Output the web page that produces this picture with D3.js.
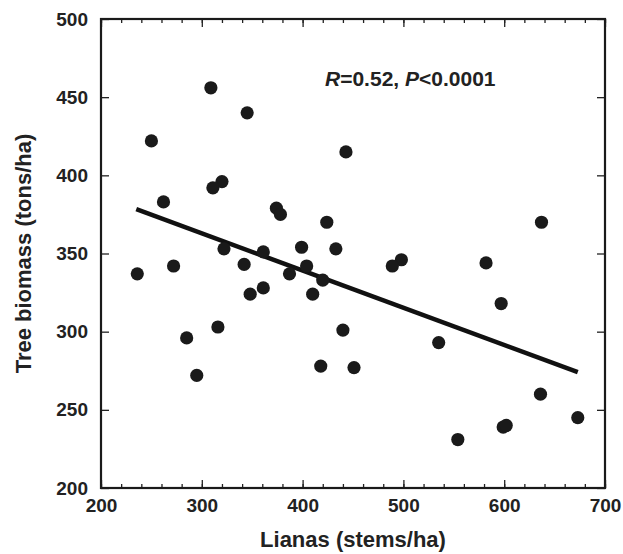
<!DOCTYPE html>
<html>
<head>
<meta charset="utf-8">
<script src="https://cdn.jsdelivr.net/npm/d3@7"></script>
<style>
  body { margin: 0; background: #fff; }
  svg text { font-family: "Liberation Sans", Arial, Helvetica, sans-serif; font-weight: bold; fill: #222; }
  .axis path, .axis line { stroke: #222; }
</style>
</head>
<body>
<svg id="chart" width="623" height="554"></svg>
<script>
// lianas density (stems/ha) per plot
const lianas = [
    309, 345, 250, 443, 320, 311, 262, 374, 378, 424, 322, 361, 399, 433,
    236, 272, 342, 387, 404, 420, 348, 361, 410, 316, 285, 440, 295, 418, 451,
    637, 498, 489, 582, 597, 535, 636, 673, 599, 602, 554
];
// tree biomass (tons/ha) per plot
const biomass = [
    456, 440, 422, 415, 396, 392, 383, 379, 375, 370, 353, 351, 354, 353,
    337, 342, 343, 337, 342, 333, 324, 328, 324, 303, 296, 301, 272, 278, 277,
    370, 346, 342, 344, 318, 293, 260, 245, 239, 240, 231
];
// fitted regression line
const fitX = [235, 673];
const fitSlope = -0.2382;
const fitIntercept = 434.4;

const xTicks = [200, 300, 400, 500, 600, 700];
const yTicks = [200, 250, 300, 350, 400, 450, 500];

const plotLeft = 101, plotRight = 605, plotTop = 19, plotBottom = 488;

let svg = d3.select("#chart");

let x = d3.scaleLinear().domain([200, 700]).range([plotLeft, plotRight]);
let y = d3.scaleLinear().domain([200, 500]).range([plotBottom, plotTop]);

//minor ticks every 20 stems/ha on the x axes
let xMinor = d3.range(200, 701, 20);

function drawAxis(axis, tx, ty, cls) {
    let g = svg.append("g")
        .attr("class", "axis " + cls)
        .attr("transform", "translate(" + tx + "," + ty + ")")
        .call(axis);
    g.select(".domain").remove();
    g.selectAll("line").attr("stroke-width", 1.3);
    return g;
}

// bottom
drawAxis(d3.axisBottom(x).tickValues(xMinor).tickSize(-4).tickFormat(""), 0, plotBottom, "xminor");
let xb = drawAxis(d3.axisBottom(x).tickValues(xTicks).tickSize(-8).tickPadding(11).tickFormat(d3.format("d")), 0, plotBottom, "x");
xb.selectAll("text").style("font-size", "19px").attr("dy", "0.71em");
// top
drawAxis(d3.axisTop(x).tickValues(xMinor).tickSize(-4).tickFormat(""), 0, plotTop, "xminortop");
drawAxis(d3.axisTop(x).tickValues(xTicks).tickSize(-8).tickFormat(""), 0, plotTop, "xtop");
// left
let yl = drawAxis(d3.axisLeft(y).tickValues(yTicks).tickSize(-8).tickPadding(13).tickFormat(d3.format("d")), plotLeft, 0, "y");
yl.selectAll("text").style("font-size", "19px");
// right
drawAxis(d3.axisRight(y).tickValues(yTicks).tickSize(-8).tickFormat(""), plotRight, 0, "yright");

// frame
svg.append("rect")
    .attr("x", plotLeft)
    .attr("y", plotTop)
    .attr("width", plotRight - plotLeft)
    .attr("height", plotBottom - plotTop)
    .attr("fill", "none")
    .attr("stroke", "#1a1a1a")
    .attr("stroke-width", 2.2);

// regression line
svg.append("line")
    .attr("x1", x(fitX[0]))
    .attr("y1", y(fitIntercept + fitSlope * fitX[0]))
    .attr("x2", x(fitX[1]))
    .attr("y2", y(fitIntercept + fitSlope * fitX[1]))
    .attr("stroke", "#111")
    .attr("stroke-width", 4.5);

// points
svg.append("g")
    .selectAll("circle")
    .data(lianas)
    .enter()
    .append("circle")
    .attr("cx", d => x(d))
    .attr("cy", (d, i) => y(biomass[i]))
    .attr("r", 6.6)
    .attr("fill", "#1a1a1a");

// stats annotation
let note = svg.append("text")
    .attr("x", 325)
    .attr("y", 86)
    .style("font-size", "21px");
note.append("tspan").style("font-style", "italic").text("R");
note.append("tspan").text("=0.52, ");
note.append("tspan").style("font-style", "italic").text("P");
note.append("tspan").text("<0.0001");

// axis titles
svg.append("text")
    .attr("x", (plotLeft + plotRight) / 2)
    .attr("y", 547)
    .attr("text-anchor", "middle")
    .style("font-size", "22px")
    .text("Lianas (stems/ha)");

svg.append("text")
    .attr("transform", "translate(31," + ((plotTop + plotBottom) / 2) + ") rotate(-90)")
    .attr("text-anchor", "middle")
    .style("font-size", "22px")
    .text("Tree biomass (tons/ha)");
</script>
</body>
</html>
